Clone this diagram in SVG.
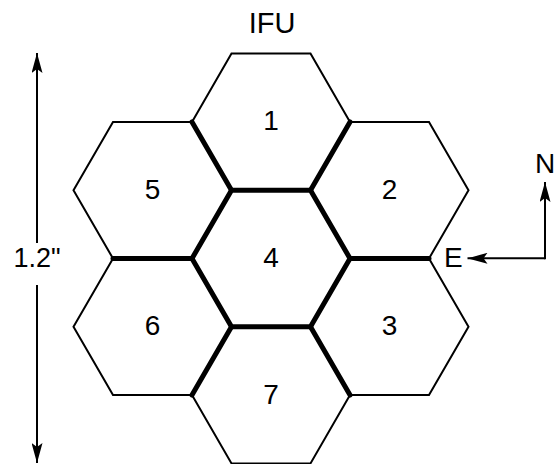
<svg xmlns="http://www.w3.org/2000/svg" width="556" height="464" viewBox="0 0 556 464">
<style>
.hex{fill:#fff;stroke:#000;stroke-width:2;stroke-linejoin:miter}
.thick{fill:none;stroke:#000;stroke-width:5;stroke-linejoin:miter;stroke-linecap:round}
.num{font-family:"Liberation Sans",Arial,sans-serif;font-size:28px;text-anchor:middle;fill:#000}
.lbl{font-family:"Liberation Sans",Arial,sans-serif;fill:#000}
.arr{fill:none;stroke:#000;stroke-width:2}
</style>
<defs>
<marker id="ah" markerUnits="userSpaceOnUse" markerWidth="20" markerHeight="11" refX="20" refY="5.5" orient="auto">
<path d="M0,0 L20,5.5 L0,11 L4,5.5 z" fill="#000"/>
</marker>
</defs>
<rect width="556" height="464" fill="#fff"/>
<text class="lbl" x="272" y="33" font-size="29" text-anchor="middle">IFU</text>
<g id="hex1"><polygon class="hex" points="192,121.9 231.5,53.6 310.5,53.6 350,121.9 310.5,190.2 231.5,190.2"/><text class="num" x="271" y="130">1</text></g>
<g id="hex2"><polygon class="hex" points="310.5,190.2 350,121.9 429,121.9 468.5,190.2 429,258.5 350,258.5"/><text class="num" x="389.5" y="198.5">2</text></g>
<g id="hex3"><polygon class="hex" points="310.5,326.8 350,258.5 429,258.5 468.5,326.8 429,395.1 350,395.1"/><text class="num" x="389.5" y="335">3</text></g>
<g id="hex5"><polygon class="hex" points="73.5,190.2 113,121.9 192,121.9 231.5,190.2 192,258.5 113,258.5"/><text class="num" x="152.5" y="198.5">5</text></g>
<g id="hex6"><polygon class="hex" points="73.5,326.8 113,258.5 192,258.5 231.5,326.8 192,395.1 113,395.1"/><text class="num" x="152.5" y="335">6</text></g>
<g id="hex7"><polygon class="hex" points="192,395.1 231.5,326.8 310.5,326.8 350,395.1 310.5,463.4 231.5,463.4"/><text class="num" x="271" y="403.5">7</text></g>
<g id="hex4"><polygon class="hex" points="192,258.5 231.5,190.2 310.5,190.2 350,258.5 310.5,326.8 231.5,326.8"/><text class="num" x="271" y="266.5">4</text></g>
<g id="thick-edges">
<polygon class="thick" points="192,258.5 231.5,190.2 310.5,190.2 350,258.5 310.5,326.8 231.5,326.8"/>
<line class="thick" x1="231.5" y1="190.2" x2="192" y2="121.9"/>
<line class="thick" x1="310.5" y1="190.2" x2="350" y2="121.9"/>
<line class="thick" x1="350" y1="258.5" x2="429" y2="258.5"/>
<line class="thick" x1="310.5" y1="326.8" x2="350" y2="395.1"/>
<line class="thick" x1="231.5" y1="326.8" x2="192" y2="395.1"/>
<line class="thick" x1="192" y1="258.5" x2="113" y2="258.5"/>
</g>
<g id="connectors">
<line class="arr" x1="37" y1="243" x2="37" y2="53" marker-end="url(#ah)"/>
<line class="arr" x1="37" y1="285" x2="37" y2="463" marker-end="url(#ah)"/>
<line class="arr" x1="545" y1="259.3" x2="545" y2="182" marker-end="url(#ah)"/>
<polyline class="arr" points="545,258.3 467.5,258.3" marker-end="url(#ah)"/>
</g>
<text class="lbl" x="37" y="267" font-size="27" text-anchor="middle">1.2"</text>
<text class="lbl" x="444" y="267.3" font-size="28">E</text>
<text class="lbl" x="545" y="173.3" font-size="28" text-anchor="middle">N</text>
</svg>
